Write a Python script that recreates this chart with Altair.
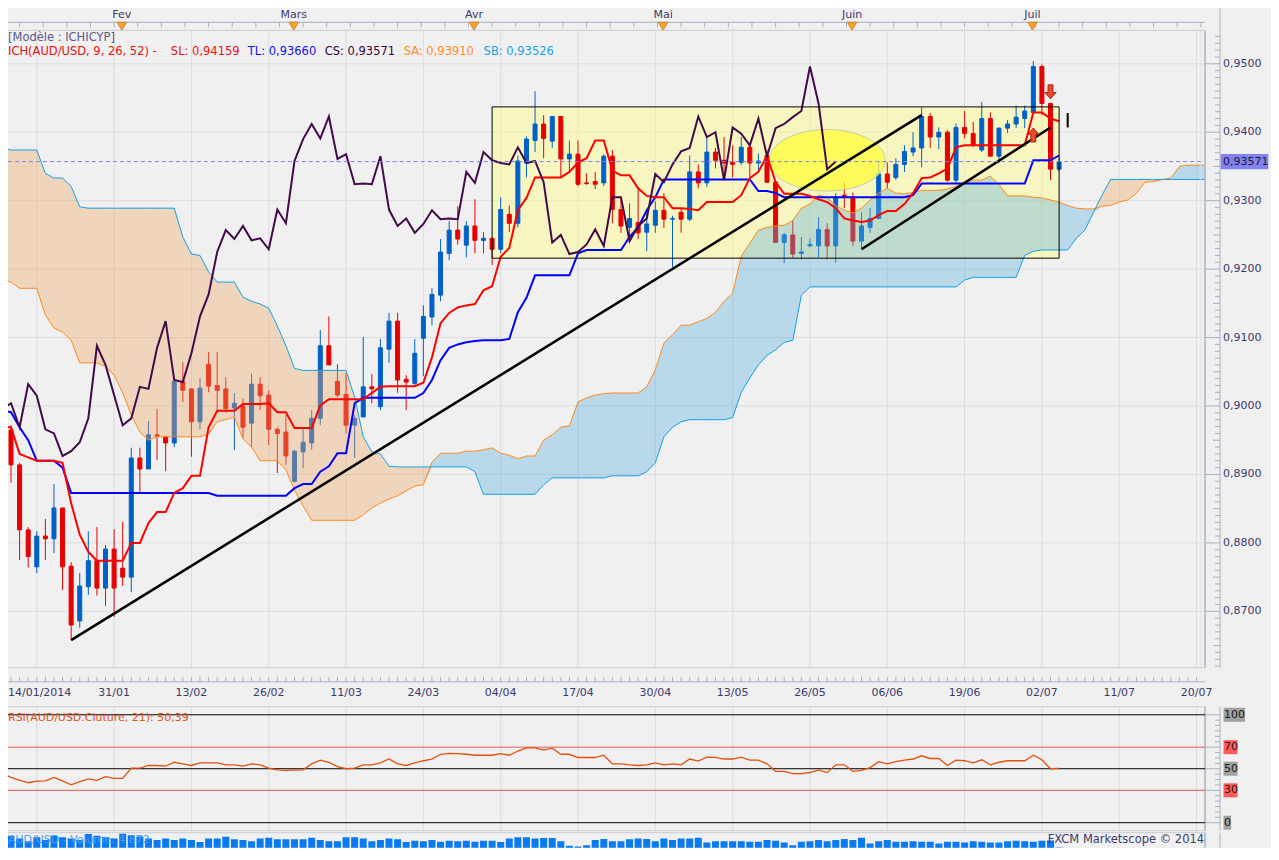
import altair as alt
import numpy as np
import pandas as pd

# ------------------------------------------------------------------ data
bars = list(range(-1, 123))          # daily bars (index), -1 .. 122
cloud_bars = list(range(-1, 140))    # cloud is projected 26 bars ahead

opens = [0.9042, 0.8965, 0.8914, 0.8819, 0.8765, 0.8810, 0.8806, 0.8851, 0.8766, 0.8686,
         0.8736, 0.8774, 0.8734, 0.8791, 0.8763, 0.8750, 0.8924, 0.8908, 0.8958, 0.8955,
         0.8946, 0.9036, 0.9025, 0.8977, 0.9061, 0.9030, 0.9025, 0.8997, 0.9000, 0.8975,
         0.9032, 0.9016, 0.8966, 0.8962, 0.8890, 0.8933, 0.8946, 0.8982, 0.9088, 0.9036,
         0.9017, 0.8972, 0.8984, 0.9028, 0.8999, 0.9083, 0.9124, 0.9039, 0.9033, 0.9099,
         0.9130, 0.9162, 0.9223, 0.9257, 0.9235, 0.9263, 0.9242, 0.9245, 0.9229, 0.9280,
         0.9267, 0.9355, 0.9388, 0.9412, 0.9387, 0.9423, 0.9361, 0.9368, 0.9326, 0.9328,
         0.9326, 0.9365, 0.9287, 0.9261, 0.9268, 0.9254, 0.9264, 0.9286, 0.9273, 0.9283,
         0.9273, 0.9342, 0.9326, 0.9371, 0.9359, 0.9356, 0.9356, 0.9378, 0.9355, 0.9366,
         0.9327, 0.9239, 0.9250, 0.9223, 0.9234, 0.9234, 0.9258, 0.9234, 0.9308, 0.9305,
         0.9241, 0.9261, 0.9274, 0.9339, 0.9334, 0.9353, 0.9371, 0.9377, 0.9423, 0.9393,
         0.9400, 0.9330, 0.9407, 0.9398, 0.9374, 0.9420, 0.9365, 0.9406, 0.9412, 0.9420,
         0.9429, 0.9496, 0.9442, 0.9346]
highs = [0.9050, 0.8972, 0.8917, 0.8823, 0.8817, 0.8835, 0.8886, 0.8851, 0.8772, 0.8756,
         0.8817, 0.8823, 0.8797, 0.8820, 0.8831, 0.8939, 0.8939, 0.8978, 0.8996, 0.8956,
         0.9039, 0.9064, 0.9025, 0.9041, 0.9079, 0.9079, 0.9042, 0.9019, 0.9011, 0.9047,
         0.9042, 0.9023, 0.8969, 0.8987, 0.8936, 0.8968, 0.8994, 0.9111, 0.9131, 0.9061,
         0.9048, 0.8987, 0.9101, 0.9047, 0.9098, 0.9136, 0.9136, 0.9045, 0.9098, 0.9147,
         0.9172, 0.9244, 0.9270, 0.9292, 0.9270, 0.9302, 0.9254, 0.9245, 0.9305, 0.9293,
         0.9366, 0.9394, 0.9460, 0.9425, 0.9423, 0.9423, 0.9388, 0.9388, 0.9340, 0.9342,
         0.9368, 0.9374, 0.9305, 0.9296, 0.9317, 0.9283, 0.9299, 0.9311, 0.9278, 0.9289,
         0.9366, 0.9353, 0.9393, 0.9377, 0.9393, 0.9381, 0.9393, 0.9381, 0.9369, 0.9374,
         0.9328, 0.9253, 0.9271, 0.9247, 0.9245, 0.9276, 0.9267, 0.9311, 0.9327, 0.9312,
         0.9283, 0.9289, 0.9356, 0.9356, 0.9362, 0.9381, 0.9400, 0.9436, 0.9428, 0.9407,
         0.9403, 0.9413, 0.9431, 0.9415, 0.9444, 0.9429, 0.9407, 0.9418, 0.9439, 0.9439,
         0.9504, 0.9499, 0.9442, 0.9362]
lows = [0.8928, 0.8888, 0.8775, 0.8764, 0.8756, 0.8775, 0.8785, 0.8731, 0.8658, 0.8676,
        0.8724, 0.8723, 0.8708, 0.8692, 0.8737, 0.8728, 0.8873, 0.8908, 0.8921, 0.8905,
        0.8940, 0.9006, 0.8926, 0.8966, 0.9020, 0.8994, 0.8990, 0.8936, 0.8953, 0.8940,
        0.8994, 0.8943, 0.8902, 0.8914, 0.8888, 0.8909, 0.8936, 0.8972, 0.9060, 0.9013,
        0.8960, 0.8924, 0.8984, 0.9004, 0.8994, 0.9063, 0.9019, 0.8994, 0.9029, 0.9044,
        0.9118, 0.9153, 0.9213, 0.9236, 0.9217, 0.9223, 0.9223, 0.9206, 0.9223, 0.9254,
        0.9261, 0.9334, 0.9371, 0.9362, 0.9377, 0.9334, 0.9340, 0.9321, 0.9323, 0.9317,
        0.9321, 0.9267, 0.9253, 0.9242, 0.9244, 0.9226, 0.9253, 0.9260, 0.9203, 0.9253,
        0.9270, 0.9318, 0.9320, 0.9347, 0.9333, 0.9334, 0.9352, 0.9334, 0.9342, 0.9326,
        0.9239, 0.9209, 0.9216, 0.9214, 0.9232, 0.9217, 0.9214, 0.9210, 0.9289, 0.9234,
        0.9229, 0.9253, 0.9273, 0.9318, 0.9330, 0.9342, 0.9365, 0.9349, 0.9377, 0.9375,
        0.9328, 0.9325, 0.9391, 0.9378, 0.9371, 0.9365, 0.9355, 0.9399, 0.9406, 0.9406,
        0.9428, 0.9425, 0.9330, 0.9343]
closes = [0.8965, 0.8914, 0.8819, 0.8780, 0.8810, 0.8806, 0.8851, 0.8765, 0.8680, 0.8737,
          0.8774, 0.8734, 0.8791, 0.8734, 0.8750, 0.8924, 0.8908, 0.8958, 0.8956, 0.8946,
          0.9036, 0.9023, 0.8977, 0.9026, 0.9029, 0.9023, 0.8996, 0.9004, 0.8969, 0.9032,
          0.9015, 0.8966, 0.8960, 0.8927, 0.8934, 0.8947, 0.8982, 0.9088, 0.9060, 0.9016,
          0.8972, 0.8982, 0.9028, 0.9025, 0.9085, 0.9124, 0.9038, 0.9035, 0.9077, 0.9131,
          0.9163, 0.9225, 0.9257, 0.9244, 0.9263, 0.9242, 0.9245, 0.9229, 0.9287, 0.9267,
          0.9358, 0.9390, 0.9412, 0.9391, 0.9423, 0.9361, 0.9368, 0.9324, 0.9325, 0.9324,
          0.9365, 0.9287, 0.9263, 0.9274, 0.9253, 0.9266, 0.9286, 0.9273, 0.9274, 0.9273,
          0.9342, 0.9326, 0.9371, 0.9359, 0.9355, 0.9353, 0.9378, 0.9355, 0.9358, 0.9327,
          0.9239, 0.9250, 0.9222, 0.9225, 0.9236, 0.9258, 0.9234, 0.9305, 0.9305, 0.9241,
          0.9263, 0.9274, 0.9339, 0.9327, 0.9353, 0.9372, 0.9377, 0.9423, 0.9393, 0.9400,
          0.9330, 0.9407, 0.9398, 0.9381, 0.9420, 0.9365, 0.9406, 0.9412, 0.9422, 0.9431,
          0.9496, 0.9442, 0.9346, 0.93571]

tenkan = [0.8969, 0.8969, 0.8930, 0.8925, 0.8920, 0.8920, 0.8920, 0.8917, 0.8858, 0.8812,
          0.8787, 0.8774, 0.8774, 0.8774, 0.8774, 0.8800, 0.8800, 0.8829, 0.8845, 0.8845,
          0.8873, 0.8880, 0.8898, 0.8898, 0.8969, 0.8993, 0.8993, 0.8993, 0.9003, 0.9003,
          0.9003, 0.9004, 0.8991, 0.8991, 0.8968, 0.8968, 0.8968, 0.9001, 0.9010, 0.9010,
          0.9010, 0.9010, 0.9010, 0.9019, 0.9028, 0.9029, 0.9029, 0.9029, 0.9029, 0.9034,
          0.9071, 0.9121, 0.9136, 0.9144, 0.9147, 0.9149, 0.9169, 0.9175, 0.9218, 0.9231,
          0.9286, 0.9304, 0.9334, 0.9334, 0.9334, 0.9334, 0.9342, 0.9356, 0.9362, 0.9388,
          0.9388, 0.9344, 0.9337, 0.9337, 0.9318, 0.9307, 0.9305, 0.9305, 0.9289, 0.9289,
          0.9288, 0.9286, 0.9298, 0.9298, 0.9298, 0.9298, 0.9308, 0.9333, 0.9342, 0.9366,
          0.9327, 0.9310, 0.9310, 0.9310, 0.9307, 0.9302, 0.9298, 0.9289, 0.9274, 0.9271,
          0.9269, 0.9271, 0.9279, 0.9285, 0.9285, 0.9295, 0.9311, 0.9333, 0.9334, 0.9340,
          0.9347, 0.9378, 0.9381, 0.9381, 0.9381, 0.9381, 0.9381, 0.9381, 0.9381, 0.9381,
          0.9429, 0.9429, 0.9420, 0.9416]
kijun = [0.8994, 0.8991, 0.8969, 0.8950, 0.8920, 0.8920, 0.8920, 0.8910, 0.8873, 0.8873,
         0.8873, 0.8873, 0.8873, 0.8873, 0.8873, 0.8873, 0.8873, 0.8873, 0.8873, 0.8873,
         0.8873, 0.8873, 0.8873, 0.8873, 0.8873, 0.8869, 0.8869, 0.8869, 0.8869, 0.8869,
         0.8869, 0.8869, 0.8869, 0.8869, 0.8880, 0.8886, 0.8886, 0.8904, 0.8912, 0.8931,
         0.8931, 0.9004, 0.9012, 0.9012, 0.9012, 0.9012, 0.9012, 0.9012, 0.9012, 0.9019,
         0.9038, 0.9067, 0.9085, 0.9090, 0.9093, 0.9095, 0.9096, 0.9096, 0.9096, 0.9098,
         0.9137, 0.9158, 0.9191, 0.9191, 0.9191, 0.9191, 0.9191, 0.9223, 0.9228, 0.9228,
         0.9228, 0.9228, 0.9228, 0.9247, 0.9261, 0.9286, 0.9305, 0.9331, 0.9331, 0.9331,
         0.9331, 0.9331, 0.9331, 0.9331, 0.9331, 0.9331, 0.9331, 0.9331, 0.9314, 0.9314,
         0.9311, 0.9305, 0.9305, 0.9305, 0.9305, 0.9305, 0.9305, 0.9305, 0.9305, 0.9305,
         0.9305, 0.9305, 0.9305, 0.9305, 0.9305, 0.9305, 0.9308, 0.9325, 0.9325, 0.9325,
         0.9325, 0.9325, 0.9325, 0.9325, 0.9325, 0.9325, 0.9325, 0.9325, 0.9325, 0.9325,
         0.9359, 0.9359, 0.9359, 0.9366]
senkou_a = [0.9184, 0.9181, 0.9172, 0.9172, 0.9172, 0.9133, 0.9114, 0.9108, 0.9096, 0.9063,
            0.9063, 0.9063, 0.9058, 0.9045, 0.9019, 0.8987, 0.8962, 0.8950, 0.8955, 0.8955,
            0.8955, 0.8955, 0.8955, 0.8955, 0.8959, 0.8977, 0.8980, 0.8984, 0.8952, 0.8940,
            0.8920, 0.8920, 0.8920, 0.8907, 0.8877, 0.8854, 0.8833, 0.8833, 0.8833, 0.8833,
            0.8833, 0.8833, 0.8841, 0.8851, 0.8858, 0.8864, 0.8869, 0.8876, 0.8883, 0.8885,
            0.8918, 0.8931, 0.8931, 0.8931, 0.8934, 0.8934, 0.8936, 0.8939, 0.8931, 0.8928,
            0.8923, 0.8927, 0.8927, 0.8950, 0.8958, 0.8969, 0.8971, 0.9006, 0.9012, 0.9016,
            0.9018, 0.9019, 0.9019, 0.9019, 0.9019, 0.9028, 0.9053, 0.9092, 0.9104, 0.9118,
            0.9118, 0.9123, 0.9128, 0.9137, 0.9153, 0.9165, 0.9219, 0.9238, 0.9257, 0.9261,
            0.9263, 0.9264, 0.9271, 0.9289, 0.9295, 0.9308, 0.9305, 0.9293, 0.9286, 0.9282,
            0.9289, 0.9301, 0.9311, 0.9318, 0.9311, 0.9310, 0.9312, 0.9315, 0.9315, 0.9315,
            0.9317, 0.9321, 0.9327, 0.9330, 0.9330, 0.9336, 0.9324, 0.9307, 0.9307, 0.9307,
            0.9305, 0.9304, 0.9301, 0.9298, 0.9293, 0.9289, 0.9288, 0.9288, 0.9292, 0.9293,
            0.9298, 0.9301, 0.9311, 0.9327, 0.9328, 0.9331, 0.9333, 0.9350, 0.9352, 0.9352,
            0.9352]
senkou_b = [0.9377, 0.9374, 0.9374, 0.9374, 0.9374, 0.9340, 0.9333, 0.9333, 0.9321, 0.9291,
            0.9289, 0.9289, 0.9289, 0.9289, 0.9289, 0.9289, 0.9289, 0.9289, 0.9289, 0.9289,
            0.9289, 0.9247, 0.9222, 0.9220, 0.9196, 0.9181, 0.9181, 0.9181, 0.9159, 0.9153,
            0.9149, 0.9143, 0.9117, 0.9088, 0.9055, 0.9052, 0.9052, 0.9052, 0.9052, 0.9052,
            0.9052, 0.9013, 0.8955, 0.8933, 0.8930, 0.8912, 0.8911, 0.8911, 0.8911, 0.8911,
            0.8911, 0.8911, 0.8911, 0.8911, 0.8911, 0.8904, 0.8871, 0.8871, 0.8871, 0.8871,
            0.8871, 0.8871, 0.8871, 0.8885, 0.8895, 0.8895, 0.8895, 0.8895, 0.8895, 0.8895,
            0.8895, 0.8898, 0.8898, 0.8898, 0.8898, 0.8904, 0.8917, 0.8955, 0.8969, 0.8977,
            0.8980, 0.8980, 0.8980, 0.8980, 0.8980, 0.8983, 0.9020, 0.9041, 0.9060, 0.9074,
            0.9082, 0.9093, 0.9096, 0.9162, 0.9174, 0.9174, 0.9174, 0.9174, 0.9174, 0.9174,
            0.9174, 0.9174, 0.9174, 0.9174, 0.9174, 0.9174, 0.9174, 0.9174, 0.9174, 0.9174,
            0.9174, 0.9174, 0.9184, 0.9188, 0.9188, 0.9188, 0.9188, 0.9188, 0.9188, 0.9220,
            0.9226, 0.9228, 0.9228, 0.9228, 0.9228, 0.9245, 0.9257, 0.9283, 0.9308, 0.9331,
            0.9331, 0.9331, 0.9331, 0.9331, 0.9331, 0.9331, 0.9331, 0.9331, 0.9331, 0.9331,
            0.9331]

rsi_values = [45.5, 42, 39.5, 37, 38.5, 38.7, 42, 38.7, 35, 38,
              40.5, 39.3, 42.6, 41, 41, 50.6, 50.6, 53, 53, 52.4,
              56, 54.5, 53, 55.4, 55.4, 55.4, 53.6, 53.6, 52.4, 54.5,
              53.6, 50.6, 49, 48.5, 48.7, 49, 54.5, 58, 56, 52,
              50, 50.5, 53.6, 53.6, 55.4, 59, 54.5, 53, 55.4, 57.4,
              59, 63.4, 64.3, 64, 63.4, 62.5, 62.5, 62.5, 64, 62.5,
              66.4, 69.3, 69.3, 67.3, 69, 63.4, 63.4, 60.4, 60.4, 60.4,
              62.5, 54.5, 54.5, 53.6, 53, 53.6, 55.4, 53.6, 54.5, 53.6,
              59, 57, 60.7, 60.5, 59, 59, 60.7, 58, 58, 54.5,
              47.6, 47.5, 45.5, 45.5, 46.5, 49, 46.4, 53.6, 53.6, 47.6,
              48.5, 51, 56.5, 54.5, 56.5, 58, 59, 62, 59.5, 59.5,
              53, 58, 57.4, 55.4, 58.3, 53.6, 56, 57.4, 57.4, 57.4,
              62.5, 58.3, 50, 50.39]

volumes = [18000, 22000, 18000, 14000, 20000, 16000, 22000, 20000, 18000, 16000,
           24800, 22000, 20000, 18000, 25200, 22800, 21200, 18000, 16000, 18000,
           16000, 18000, 16000, 12800, 18000, 18000, 20800, 16800, 16000, 14000,
           18000, 19200, 16800, 16800, 16800, 16800, 19200, 16000, 14000, 14000,
           20000, 20000, 18000, 14000, 16000, 18000, 16800, 12800, 14800, 14000,
           16000, 13200, 14800, 14000, 14800, 13200, 14800, 14800, 12800, 18000,
           20000, 20000, 18000, 18800, 18800, 14000, 7200, 6000, 8000, 16000,
           17200, 14000, 14000, 16800, 18000, 17200, 14000, 18000, 16000, 18000,
           18000, 19200, 12000, 14000, 14000, 14000, 14000, 13200, 13200, 16000,
           14800, 12000, 8000, 13200, 14000, 16000, 14000, 16000, 17200, 16000,
           19200, 10800, 14000, 16000, 13200, 13200, 14000, 13200, 13200, 10800,
           13200, 13200, 12000, 14000, 13200, 12000, 12000, 14000, 14800, 14000,
           13200, 14800, 15200, 4872]

date_labels = ["14/01/2014", "31/01", "13/02", "26/02", "11/03", "24/03", "04/04", "17/04",
               "30/04", "13/05", "26/05", "06/06", "19/06", "02/07", "11/07", "20/07"]
date_label_bars = [3, 12, 21, 30, 39, 48, 57, 66, 75, 84, 93, 102, 111, 120, 129, 138]
month_labels = ["Fev", "Mars", "Avr", "Mai", "Juin", "Juil"]
month_bars = [12.9, 32.9, 53.9, 75.9, 97.9, 118.9]
price_ticks = [0.87, 0.88, 0.89, 0.90, 0.91, 0.92, 0.93, 0.94, 0.95]
rsi_levels_black = [100, 50, 0]
rsi_levels_red = [70, 30]
last_price = 0.93571

# annotations drawn by the analyst
box_bars = [56, 122]
box_prices = [0.9437, 0.9216]
trend_bars = [7, 106, 99, 121]
trend_prices = [0.8658, 0.9425, 0.9229, 0.9407]
trend_ids = ["a", "a", "b", "b"]
ellipse_bar, ellipse_price = 95, 0.9359
arrow_up_bar, arrow_up_price = 119, 0.9396
arrow_down_bar, arrow_down_price = 121, 0.9459
cursor_bar, cursor_prices = 123, [0.9407, 0.9428]

legend_items = [("ICH(AUD/USD, 9, 26, 52) -", "#e81010", 0),
                ("SL: 0,94159", "#e81010", 163),
                ("TL: 0,93660", "#1010f0", 240),
                ("CS: 0,93571", "#3c003c", 317),
                ("SA: 0,93910", "#ff8a1e", 396),
                ("SB: 0,93526", "#18a0ec", 476)]

# ------------------------------------------------------------------ layout / style
W, H = 1198, 840
FONT = "DejaVu Sans"
NAVY = "#3a3a6c"
RULER = "#a8b0c0"
BORDER = "#c8ccd6"
GRID = "#dcdcdc"
BULL, BEAR = "#0060c8", "#e60000"

xs = alt.Scale(domain=[0.2307, 138.408], nice=False, zero=False)
ps = alt.Scale(domain=[0.86175, 0.95489], range=[660, 22], nice=False, zero=False)
rs = alt.Scale(domain=[0, 100], range=[815, 707], nice=False, zero=False)
vs = alt.Scale(domain=[0, 25200], range=[843, 826], nice=False, zero=False)


def X(f="i"):
    return alt.X(f"{f}:Q", scale=xs, axis=None)


def PY(f):
    return alt.Y(f"{f}:Q", scale=ps, axis=None)


one = pd.DataFrame({"k": [0]})


def hline(y, color, x0=0, x1=W, width=1):
    return alt.Chart(one).mark_rule(color=color, strokeWidth=width).encode(
        x=alt.value(x0), x2=alt.value(x1), y=alt.value(y))


def vline(x, y0, y1, color, width=1):
    return alt.Chart(one).mark_rule(color=color, strokeWidth=width).encode(
        x=alt.value(x), y=alt.value(y0), y2=alt.value(y1))


def label(txt, x, y, color, size=11, align="left"):
    return alt.Chart(one).mark_text(text=txt, align=align, baseline="middle", font=FONT,
                                    fontSize=size, color=color).encode(
        x=alt.value(x), y=alt.value(y))


# ------------------------------------------------------------------ frames
candles = pd.DataFrame({"i": bars, "o": opens, "h": highs, "l": lows, "c": closes})
candles["dir"] = np.where(candles["c"] >= candles["o"], "up", "down")
ichi = pd.DataFrame({"i": bars, "tenkan": tenkan, "kijun": kijun})
cloud = pd.DataFrame({"i": cloud_bars, "sa": senkou_a, "sb": senkou_b})
cloud["lo"] = cloud[["sa", "sb"]].min(axis=1)
chikou = pd.DataFrame({"i": [b - 26 for b in bars], "v": closes})
rsi_df = pd.DataFrame({"i": bars, "r": rsi_values})
vol_df = pd.DataFrame({"i": bars, "v": volumes})
grid_df = pd.DataFrame({"i": date_label_bars, "t": date_labels})
month_df = pd.DataFrame({"i": month_bars, "t": month_labels})
box_df = pd.DataFrame({"x0": [box_bars[0]], "x1": [box_bars[1]],
                       "top": [box_prices[0]], "bot": [box_prices[1]]})
trend_df = pd.DataFrame({"i": trend_bars, "p": trend_prices, "id": trend_ids})
lp_df = pd.DataFrame({"p": [last_price], "t": [f"{last_price:.5f}".replace(".", ",")]})
ptick_df = pd.DataFrame({"p": price_ticks,
                         "t": [f"{v:.4f}".replace(".", ",") for v in price_ticks]})

dir_color = alt.Scale(domain=["up", "down"], range=[BULL, BEAR])

# ------------------------------------------------------------------ price panel
vgrid_main = alt.Chart(grid_df).mark_rule(color=GRID).encode(
    x=X(), y=alt.value(22), y2=alt.value(660))
hgrid_main = alt.Chart(ptick_df).mark_rule(color=GRID).encode(
    y=PY("p"), x=alt.value(0), x2=alt.value(W))

box_fill = alt.Chart(box_df).mark_rect(color="#fffc90", opacity=0.5).encode(
    x=X("x0"), x2=alt.X2("x1"), y=PY("top"), y2=alt.Y2("bot"))

wicks = alt.Chart(candles).mark_rule(strokeWidth=1, clip=True).encode(
    x=X(), y=PY("l"), y2=alt.Y2("h"),
    color=alt.Color("dir:N", scale=dir_color, legend=None))

bodies = alt.Chart(candles).mark_bar(size=4, strokeWidth=1, clip=True).encode(
    x=X(), y=PY("o"), y2=alt.Y2("c"),
    color=alt.Color("dir:N", scale=dir_color, legend=None),
    stroke=alt.Stroke("dir:N", scale=dir_color, legend=None))

cloud_peach = alt.Chart(cloud).mark_area(color="#f0a868", opacity=0.38, clip=True).encode(
    x=X(), y=PY("sb"), y2=alt.Y2("lo"))
cloud_blue = alt.Chart(cloud).mark_area(color="#5fb0e0", opacity=0.38, clip=True).encode(
    x=X(), y=PY("sa"), y2=alt.Y2("lo"))

ellipse = alt.Chart(pd.DataFrame({"i": [ellipse_bar], "p": [ellipse_price]})).mark_point(
    shape="M-1,0 A1,0.53 0 1,1 1,0 A1,0.53 0 1,1 -1,0 Z", size=13456, filled=True,
    fill="#ffff30", fillOpacity=0.7, stroke="#c8c8b0", strokeWidth=1, opacity=1).encode(
    x=X(), y=PY("p"))

sa_line = alt.Chart(cloud).mark_line(color="#ff8a1c", strokeWidth=1, clip=True).encode(
    x=X(), y=PY("sa"))
sb_line = alt.Chart(cloud).mark_line(color="#12a0e8", strokeWidth=1, clip=True).encode(
    x=X(), y=PY("sb"))
kijun_line = alt.Chart(ichi).mark_line(color="#0000ff", strokeWidth=2, clip=True).encode(
    x=X(), y=PY("kijun"))
tenkan_line = alt.Chart(ichi).mark_line(color="#ff0000", strokeWidth=2, clip=True).encode(
    x=X(), y=PY("tenkan"))
chikou_line = alt.Chart(chikou).mark_line(color="#420a4a", strokeWidth=2, clip=True).encode(
    x=X(), y=PY("v"))

trends = alt.Chart(trend_df).mark_line(color="black", strokeWidth=2.5, clip=True).encode(
    x=X(), y=PY("p"), detail="id:N")

box_border = alt.Chart(box_df).mark_rect(filled=False, stroke="black", strokeWidth=1,
                                         fillOpacity=0).encode(
    x=X("x0"), x2=alt.X2("x1"), y=PY("top"), y2=alt.Y2("bot"))

last_line = alt.Chart(lp_df).mark_rule(color="#7c7cee", strokeDash=[4, 3], strokeWidth=1).encode(
    y=PY("p"), x=alt.value(0), x2=alt.value(W))

arrow_up = alt.Chart(pd.DataFrame({"i": [arrow_up_bar], "p": [arrow_up_price]})).mark_point(
    shape="M0,-1 L0.8,-0.1 L0.35,-0.1 L0.35,1 L-0.35,1 L-0.35,-0.1 L-0.8,-0.1 Z", size=196,
    filled=True, fill="#ea4a2c", stroke="#a82010", strokeWidth=1, opacity=1).encode(
    x=X(), y=PY("p"))
arrow_down = alt.Chart(pd.DataFrame({"i": [arrow_down_bar], "p": [arrow_down_price]})).mark_point(
    shape="M0,1 L0.8,0.1 L0.35,0.1 L0.35,-1 L-0.35,-1 L-0.35,0.1 L-0.8,0.1 Z", size=196,
    filled=True, fill="#ea4a2c", stroke="#a82010", strokeWidth=1, opacity=1).encode(
    x=X(), y=PY("p"))
cursor = alt.Chart(pd.DataFrame({"i": [cursor_bar], "p0": [cursor_prices[0]],
                                 "p1": [cursor_prices[1]]})).mark_rule(
    color="black", strokeWidth=2).encode(x=X(), y=PY("p0"), y2=alt.Y2("p1"))

# right price ruler (ticks + labels)
price_major = alt.Chart(ptick_df).mark_rule(color=RULER).encode(
    y=PY("p"), x=alt.value(W), x2=alt.value(W + 15))
price_labels = alt.Chart(ptick_df).mark_text(align="left", baseline="middle", font=FONT,
                                             fontSize=11, color=NAVY).encode(
    y=PY("p"), x=alt.value(W + 18), text="t:N")
half_df = pd.DataFrame({"p": [v / 1000 for v in range(865, 955, 10)]})
price_half = alt.Chart(half_df).mark_rule(color=RULER).encode(
    y=PY("p"), x=alt.value(W + 8), x2=alt.value(W + 15))
minor_df = pd.DataFrame({"p": [v / 1000 for v in range(862, 955) if v % 5 != 0]})
price_minor = alt.Chart(minor_df).mark_rule(color=RULER).encode(
    y=PY("p"), x=alt.value(W + 10), x2=alt.value(W + 15))

price_box = alt.Chart(lp_df).mark_point(
    shape="M-1,-0.32 L1,-0.32 L1,0.32 L-1,0.32 Z", size=2266, filled=True,
    fill="#8282f0", opacity=1, strokeWidth=0).encode(x=alt.value(W + 39.5), y=PY("p"))
price_text = alt.Chart(lp_df).mark_text(align="left", baseline="middle", font=FONT,
                                        fontSize=11, color="#1a1a40").encode(
    x=alt.value(W + 18), y=PY("p"), text="t:N")

# top time ruler + month markers
top_ticks = alt.Chart(pd.DataFrame({"i": list(np.arange(1, 139, 2.75))})).mark_rule(
    color=RULER).encode(x=X(), y=alt.value(14), y2=alt.value(19))
month_tri = alt.Chart(month_df).mark_point(shape="triangle-down", size=90, filled=True,
                                           fill="#f5a232", stroke="#d07c10",
                                           strokeWidth=0.8, opacity=1).encode(
    x=X(), y=alt.value(18))
month_text = alt.Chart(month_df).mark_text(baseline="middle", font=FONT, fontSize=11,
                                           color=NAVY).encode(
    x=X(), y=alt.value(7), text="t:N")

# bottom date ruler
date_ticks = alt.Chart(pd.DataFrame({"i": list(range(0, 139))})).mark_rule(color=RULER).encode(
    x=X(), y=alt.value(669), y2=alt.value(674))
date_text = alt.Chart(grid_df.iloc[1:]).mark_text(baseline="middle", font=FONT, fontSize=11,
                                                  color=NAVY).encode(
    x=X(), y=alt.value(685), text="t:N")
first_date = alt.Chart(grid_df.iloc[:1]).mark_text(align="left", baseline="middle", font=FONT,
                                                   fontSize=11, color=NAVY).encode(
    x=alt.value(0), y=alt.value(685), text="t:N")

legend_layers = [label("[Modèle : ICHICYP]", 0, 30, "#5a5a8c", 11.5)]
for txt, col, xpos in legend_items:
    legend_layers.append(label(txt, xpos, 44, col, 11.5))

price_group = alt.layer(
    vgrid_main, hgrid_main, box_fill, wicks, bodies, cloud_peach, cloud_blue, ellipse,
    sa_line, sb_line, kijun_line, tenkan_line, chikou_line, trends, box_border,
    last_line, arrow_up, arrow_down, cursor,
    vline(W - 4, 22, 660, "#dde1e8"), vline(W, 22, 660, "#b8c0cc", 2),
    vline(W + 15, 0, 660, RULER),
    price_major, price_half, price_minor, price_labels, price_box, price_text,
    hline(14, RULER), top_ticks, month_tri, month_text,
    hline(22, BORDER), hline(660, BORDER), hline(674, RULER), date_ticks, date_text,
    first_date,
    *legend_layers,
)

# ------------------------------------------------------------------ RSI panel
vgrid_rsi = alt.Chart(grid_df).mark_rule(color=GRID).encode(
    x=X(), y=alt.value(699), y2=alt.value(823))
lv_black = alt.Chart(pd.DataFrame({"lv": rsi_levels_black})).mark_rule(
    color="black", strokeWidth=1).encode(
    y=alt.Y("lv:Q", scale=rs, axis=None), x=alt.value(0), x2=alt.value(W))
lv_red = alt.Chart(pd.DataFrame({"lv": rsi_levels_red})).mark_rule(
    color="#e85454", strokeWidth=1).encode(
    y=alt.Y("lv:Q", scale=rs, axis=None), x=alt.value(0), x2=alt.value(W))
rsi_line = alt.Chart(rsi_df).mark_line(color="#e4500c", strokeWidth=1.3, clip=True).encode(
    x=X(), y=alt.Y("r:Q", scale=rs, axis=None))

box_specs = [(100, "100", "#a0a0a0", 10.8, "M-1,-0.65 L1,-0.65 L1,0.65 L-1,0.65 Z"),
             (70, "70", "#ff5a5a", 7.0, "M-1,-1 L1,-1 L1,1 L-1,1 Z"),
             (50, "50", "#a0a0a0", 7.0, "M-1,-1 L1,-1 L1,1 L-1,1 Z"),
             (30, "30", "#ff5a5a", 7.0, "M-1,-1 L1,-1 L1,1 L-1,1 Z"),
             (0, "0", "#a0a0a0", 3.8, "M-1,-1.84 L1,-1.84 L1,1.84 L-1,1.84 Z")]
rsi_label_layers = []
for lv, txt, col, r, path in box_specs:
    d = pd.DataFrame({"lv": [lv], "t": [txt]})
    rsi_label_layers.append(
        alt.Chart(d).mark_rule(color=RULER).encode(
            y=alt.Y("lv:Q", scale=rs, axis=None), x=alt.value(W), x2=alt.value(W + 15)))
    rsi_label_layers.append(
        alt.Chart(d).mark_point(shape=path, size=(2 * r) ** 2, filled=True, fill=col,
                                opacity=1, strokeWidth=0).encode(
            x=alt.value(W + 18.5 + r), y=alt.Y("lv:Q", scale=rs, axis=None)))
    rsi_label_layers.append(
        alt.Chart(d).mark_text(align="left", baseline="middle", font=FONT, fontSize=11,
                               color="#1a1a1a").encode(
            x=alt.value(W + 19), y=alt.Y("lv:Q", scale=rs, axis=None), text="t:N"))

rsi_minor = alt.Chart(pd.DataFrame({"lv": [v for v in range(5, 100, 5)
                                            if v not in (30, 50, 70)]})).mark_rule(
    color=RULER).encode(y=alt.Y("lv:Q", scale=rs, axis=None),
                        x=alt.value(W + 10), x2=alt.value(W + 15))

rsi_group = alt.layer(
    vgrid_rsi, hline(699, BORDER), hline(823, BORDER), vline(W, 699, 823, "#b8c0cc", 2),
    vline(W + 15, 699, 823, RULER),
    lv_black, lv_red,
    label("RSI(AUD/USD.Cluture, 21): 50,39", 0, 710, "#e4501a", 11),
    rsi_line, rsi_minor, *rsi_label_layers,
)

# ------------------------------------------------------------------ volume panel
vol_bars = alt.Chart(vol_df).mark_rule(color="#0a7af2", strokeWidth=7, clip=True).encode(
    x=X(), y=alt.Y("v:Q", scale=vs, axis=None), y2=alt.value(850))
vol_group = alt.layer(
    hline(825, BORDER), vline(W, 825, 840, "#b8c0cc", 2), vline(W + 15, 825, 840, RULER),
    vol_bars,
    label("AUD/USD - Volume: 4 872", 0, 832, "#4a9af0", 11),
    label("FXCM Marketscope © 2014", W - 1, 832, NAVY, 11.5, align="right"),
)

chart = alt.layer(price_group, rsi_group, vol_group).resolve_scale(
    y="independent"
).properties(
    width=W, height=H,
    autosize=alt.AutoSizeParams(type="none"),
    padding={"left": 0, "top": 0, "right": 66, "bottom": 0},
    background="#f0f0f0",
).configure_view(stroke=None)

chart.save("out.html", embed_options={"renderer": "svg", "actions": False})
